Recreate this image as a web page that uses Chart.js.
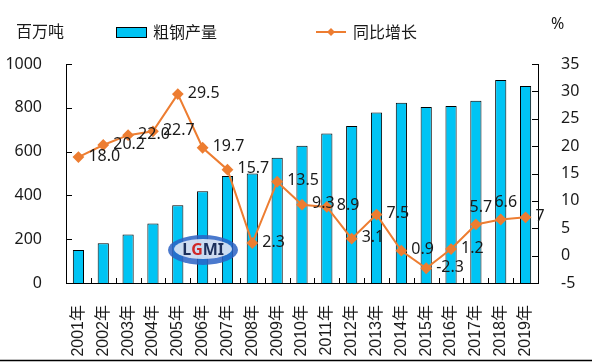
<!DOCTYPE html>
<html>
<head>
<meta charset="utf-8">
<title>粗钢产量</title>
<script src="https://cdn.jsdelivr.net/npm/chart.js"></script>
<style>
  html, body { margin: 0; padding: 0; background: #fff; }
  #wrap { width: 592px; height: 362px; }
</style>
</head>
<body>
<div id="wrap"><canvas id="steelChart" width="592" height="362"></canvas></div>
<script>
const years = ['2001年','2002年','2003年','2004年','2005年','2006年','2007年','2008年','2009年','2010年',
               '2011年','2012年','2013年','2014年','2015年','2016年','2017年','2018年','2019年'];
const output = [151, 182, 222, 272, 355, 419, 489, 500, 572, 627, 683, 717, 779, 823, 804, 808, 832, 927, 900];
const growth = [18.0, 20.2, 22.0, 22.7, 29.5, 19.7, 15.7, 2.3, 13.5, 9.3, 8.9, 3.1, 7.5, 0.9, -2.3, 1.2, 5.7, 6.6, 7];
const growthLabels = ['18.0','20.2','22.0','22.7','29.5','19.7','15.7','2.3','13.5','9.3','8.9','3.1','7.5','0.9','-2.3','1.2','5.7','6.6','7'];

const barColor = '#00C4F4';
const lineColor = '#ED7D31';
const numFont = "'Noto Sans', 'Noto Sans CJK SC', sans-serif";
const cjkFont = "'Noto Sans CJK SC', 'Noto Sans', sans-serif";

// draws inward tick marks, point labels, legend, unit labels and the logo
const extras = {
  id: 'extras',
  afterDatasetsDraw(chart) {
    const ctx = chart.ctx;
    const x = chart.scales.x, y = chart.scales.y, y1 = chart.scales.y1;
    ctx.save();
    ctx.strokeStyle = '#000';
    ctx.lineWidth = 1;
    ctx.beginPath();
    y.ticks.forEach(t => {
      const py = Math.round(y.getPixelForValue(t.value)) + 0.5;
      ctx.moveTo(y.right, py); ctx.lineTo(y.right + 6, py);
    });
    y1.ticks.forEach(t => {
      const py = Math.round(y1.getPixelForValue(t.value)) + 0.5;
      ctx.moveTo(y1.left - 6, py); ctx.lineTo(y1.left, py);
    });
    for (let i = 0; i < years.length - 1; i++) {
      const px = Math.round((x.getPixelForValue(i) + x.getPixelForValue(i + 1)) / 2) + 0.5;
      ctx.moveTo(px, x.top); ctx.lineTo(px, x.top - 5);
    }
    ctx.stroke();

    // logo watermark (under the labels)
    ctx.globalAlpha = 0.85;
    ctx.fillStyle = '#2a62c4';
    ctx.beginPath(); ctx.ellipse(203, 250, 35, 15, 0, 0, Math.PI * 2); ctx.fill();
    ctx.fillStyle = '#e8eef8';
    ctx.beginPath(); ctx.ellipse(203, 249, 29, 10, 0, 0, Math.PI * 2); ctx.fill();
    ctx.globalAlpha = 1;
    ctx.font = 'bold 16px ' + numFont;
    ctx.textAlign = 'left';
    ctx.textBaseline = 'middle';
    const parts = [['L', '#1c2f5c'], ['G', '#d02828'], ['MI', '#1c2f5c']];
    let lx = 203 - ctx.measureText('LGMI').width / 2;
    parts.forEach(([s, c]) => {
      ctx.fillStyle = c;
      ctx.fillText(s, lx, 250);
      lx += ctx.measureText(s).width;
    });

    // data labels for the growth line; 2017 and 2018 sit above their points
    const meta = chart.getDatasetMeta(1);
    ctx.fillStyle = '#1a1a1a';
    ctx.font = '16px ' + numFont;
    meta.data.forEach((pt, i) => {
      const yr = years[i];
      if (yr === '2017年' || yr === '2018年') {
        ctx.textAlign = 'center';
        ctx.fillText(growthLabels[i], pt.x + 5, pt.y - 17);
      } else {
        ctx.textAlign = 'left';
        ctx.fillText(growthLabels[i], pt.x + 10, pt.y - 1);
      }
    });

    // legend
    ctx.fillStyle = barColor;
    ctx.fillRect(116.5, 27.5, 30, 10);
    ctx.strokeStyle = '#000';
    ctx.strokeRect(116.5, 27.5, 30, 10);
    ctx.strokeStyle = lineColor;
    ctx.lineWidth = 2;
    ctx.beginPath(); ctx.moveTo(316, 32); ctx.lineTo(346, 32); ctx.stroke();
    ctx.fillStyle = lineColor;
    ctx.beginPath();
    ctx.moveTo(331, 28); ctx.lineTo(335, 32); ctx.lineTo(331, 36); ctx.lineTo(327, 32);
    ctx.closePath(); ctx.fill();
    ctx.fillStyle = '#1a1a1a';
    ctx.textAlign = 'left';
    ctx.font = '16px ' + cjkFont;
    ctx.fillText('粗钢产量', 153, 32);
    ctx.fillText('同比增长', 353, 32);
    ctx.fillText('百万吨', 16, 31);
    ctx.font = '16px ' + numFont;
    ctx.fillText('%', 551, 24);

    // bottom frame line
    ctx.strokeStyle = '#000';
    ctx.lineWidth = 1.5;
    ctx.beginPath(); ctx.moveTo(0, 360.5); ctx.lineTo(592, 360.5); ctx.stroke();
    ctx.restore();
  }
};

new Chart(document.getElementById('steelChart').getContext('2d'), {
  data: {
    labels: years,
    datasets: [
      {
        type: 'bar',
        label: '粗钢产量',
        data: output,
        yAxisID: 'y',
        backgroundColor: barColor,
        borderColor: '#000',
        borderWidth: 1,
        barPercentage: 0.45,
        categoryPercentage: 1,
        order: 2
      },
      {
        type: 'line',
        label: '同比增长',
        data: growth,
        yAxisID: 'y1',
        borderColor: lineColor,
        backgroundColor: lineColor,
        borderWidth: 2,
        pointStyle: 'rectRot',
        pointRadius: 4.5,
        pointHoverRadius: 4.5,
        tension: 0,
        order: 1
      }
    ]
  },
  options: {
    responsive: false,
    animation: false,
    layout: { padding: { top: 64, left: 0, right: 0, bottom: 0 } },
    plugins: { legend: { display: false }, tooltip: { enabled: false } },
    scales: {
      x: {
        grid: { display: false },
        border: { display: true, color: '#000', width: 1 },
        ticks: {
          color: '#1a1a1a',
          font: { family: "'Liberation Sans', 'Noto Sans CJK SC', sans-serif", size: 16 },
          minRotation: 90, maxRotation: 90, padding: 14, autoSkip: false
        },
        afterFit(s) { s.height = 79; }
      },
      y: {
        position: 'left',
        min: 0, max: 1000,
        grid: { display: false },
        border: { display: true, color: '#000', width: 1 },
        ticks: { stepSize: 200, color: '#1a1a1a', padding: 16, font: { family: numFont, size: 16 },
                 callback: v => String(v) },
        afterFit(s) { s.width = 66; }
      },
      y1: {
        position: 'right',
        min: -5, max: 35,
        grid: { display: false },
        border: { display: true, color: '#000', width: 1 },
        ticks: { stepSize: 5, color: '#1a1a1a', padding: 15, font: { family: numFont, size: 16 },
                 callback: v => String(v) },
        afterFit(s) { s.width = 54; }
      }
    }
  },
  plugins: [extras]
});
</script>
</body>
</html>
